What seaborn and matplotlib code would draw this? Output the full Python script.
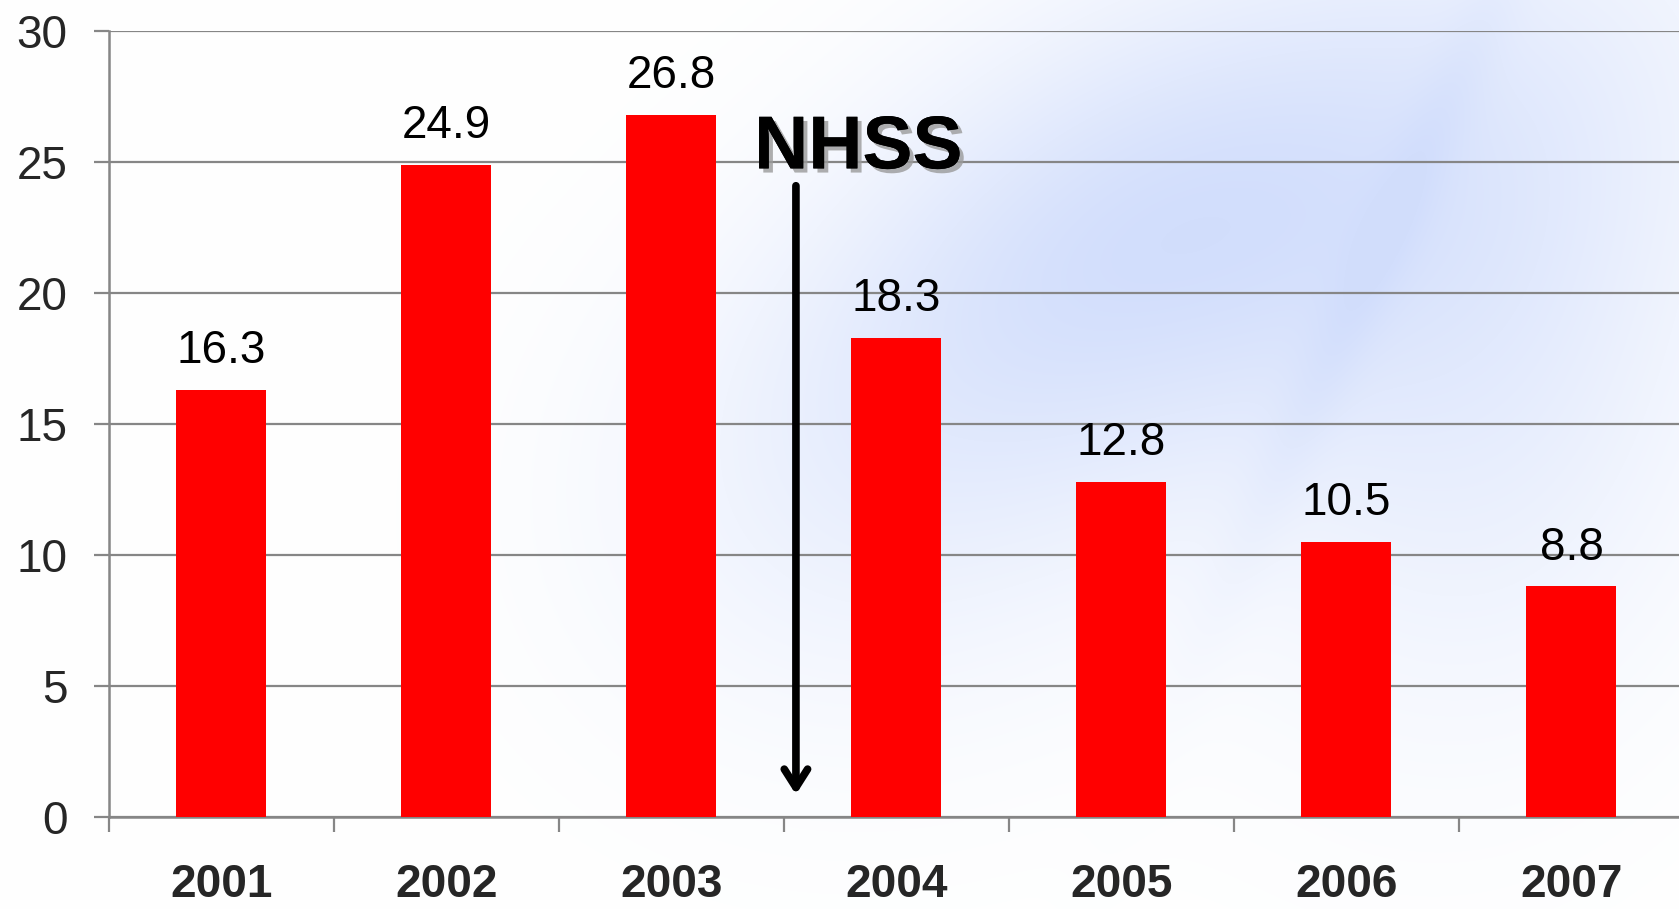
import numpy as np
import pandas as pd
import matplotlib
matplotlib.use("Agg")
import matplotlib.pyplot as plt
import matplotlib.patheffects as pe
import seaborn as sns

# ---- data ----
years = ["2001", "2002", "2003", "2004", "2005", "2006", "2007"]
values = [16.3, 24.9, 26.8, 18.3, 12.8, 10.5, 8.8]
y_ticks = [0, 5, 10, 15, 20, 25, 30]
annotation_text = "NHSS"

df = pd.DataFrame({"year": years, "value": values})

sns.set_theme(style="white")
plt.rcParams["font.family"] = ["Liberation Sans", "DejaVu Sans"]

W, H = 1679, 909
fig = plt.figure(figsize=(W / 100, H / 100), dpi=100)
fig.patch.set_facecolor("white")

# ---- decorative light-blue background (approximation of the slide picture) ----
bg = fig.add_axes([0, 0, 1, 1], zorder=0)
yy, xx = np.mgrid[0:H, 0:W].astype(float)
def blob(cx, cy, sx, sy, ang=0.0):
    c, s = np.cos(ang), np.sin(ang)
    dx, dy = xx - cx, yy - cy
    u = c * dx + s * dy
    v = -s * dx + c * dy
    return np.exp(-0.5 * ((u / sx) ** 2 + (v / sy) ** 2))
t = (0.42 * blob(1320, 200, 300, 170, -0.5)
     + 0.25 * blob(1050, 250, 220, 140, -0.6)
     + 0.22 * blob(1500, 450, 160, 220, 0.3)
     + 0.14 * blob(850, 520, 200, 180, 0.0))
d = (xx - 1380) + 0.45 * (yy - 250)
t += 0.10 * np.exp(-0.5 * (d / 25) ** 2) * blob(1350, 250, 250, 300)
t = np.clip(t, 0, 0.6)
blue = np.array([0.70, 0.78, 0.98])
img = np.ones((H, W, 3)) * (1 - t[..., None]) + blue * t[..., None]
bg.imshow(img, aspect="auto", extent=[0, 1, 0, 1], origin="upper")
bg.set_axis_off()

# ---- main axes ----
left, right, top, bottom = 109, 1684, 31, 817
ax = fig.add_axes([left / W, 1 - bottom / H, (right - left) / W, (bottom - top) / H], zorder=1)
ax.set_facecolor("none")

sns.barplot(data=df, x="year", y="value", color="#FF0000", saturation=1,
            width=0.4, ax=ax, zorder=3, linewidth=0)

ax.set_ylim(0, 30)
ax.set_xlim(-0.5, len(years) - 0.5)
ax.set_yticks(y_ticks)
ax.set_xlabel("")
ax.set_ylabel("")

grid_c = "#868686"
ax.yaxis.grid(True, color=grid_c, linewidth=1.6, zorder=1)
ax.set_axisbelow(True)
for s in ["top", "right"]:
    ax.spines[s].set_visible(False)
for s in ["left", "bottom"]:
    ax.spines[s].set_color(grid_c)
    ax.spines[s].set_linewidth(1.8)

# x ticks at category boundaries, labels at centres
ax.set_xticks(np.arange(len(years)) - 0.5, minor=False)
ax.set_xticklabels([])
ax.set_xticks(np.arange(len(years)), minor=True)
ax.set_xticklabels(years, minor=True, fontsize=33, fontweight="bold")
ax.tick_params(axis="x", which="major", direction="out", length=11, width=1.6,
               color=grid_c, bottom=True)
ax.tick_params(axis="x", which="minor", length=0, pad=33, bottom=True)
ax.tick_params(axis="y", direction="out", length=11, width=1.6, color=grid_c,
               left=True, pad=19, labelsize=33)
for lab in ax.get_yticklabels():
    lab.set_fontweight("medium")

ax.bar_label(ax.containers[0], labels=[f"{v:.1f}" for v in values],
             padding=12, fontsize=33, color="black")

# NHSS annotation and arrow
ax.text(2.83, 25.5, annotation_text, fontsize=54, fontweight="bold", ha="center",
        va="center", color="black", zorder=5,
        path_effects=[pe.withSimplePatchShadow(offset=(3, -3), shadow_rgbFace="#9a9a9a",
                                               alpha=0.8), pe.Normal()])
ax.annotate("", xy=(2.553, 0.75), xytext=(2.553, 24.2),
            arrowprops=dict(arrowstyle="->,head_length=1.1,head_width=0.7",
                            color="black", lw=5.5, capstyle="round",
                            joinstyle="round"),
            zorder=5)

fig.savefig("out.png", dpi=100)
